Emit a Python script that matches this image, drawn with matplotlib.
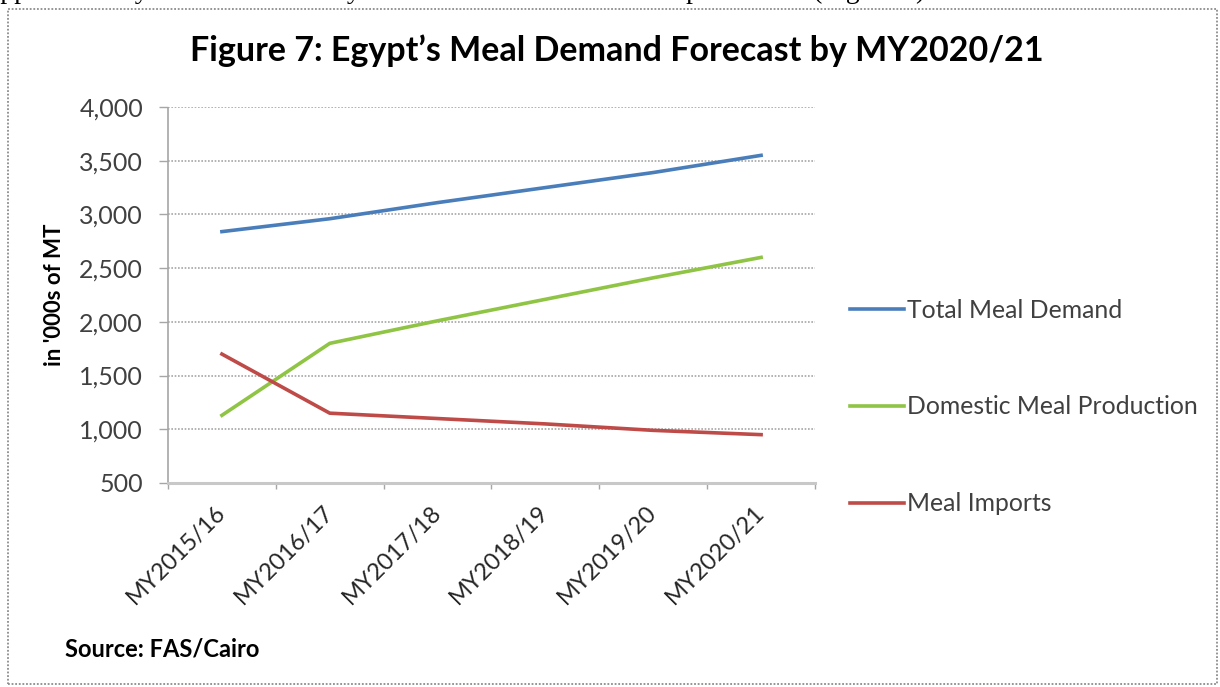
import numpy as np
import matplotlib
matplotlib.use("Agg")
import matplotlib.pyplot as plt
import matplotlib.transforms as mtransforms
from matplotlib.patches import Rectangle
from matplotlib.ticker import FuncFormatter, NullFormatter

plt.rcParams["font.family"] = ["Lato", "DejaVu Sans"]

# Egypt meal balance, '000 MT
years = ["MY2015/16", "MY2016/17", "MY2017/18", "MY2018/19", "MY2019/20", "MY2020/21"]
total_demand = [2840, 2960, 3110, 3250, 3390, 3550]
domestic_production = [1130, 1800, 2010, 2210, 2410, 2600]
meal_imports = [1700, 1150, 1100, 1050, 990, 950]

BLUE = "#4A7EBB"
GREEN = "#8FC444"
RED = "#BE4B48"
GRID = "#a6a6a6"
TEXT = "#404040"

W, H = 1220, 687
fig = plt.figure(figsize=(W / 100, H / 100), dpi=100)

# dotted frame around the whole chart
fig.patches.append(Rectangle((8 / W, 3 / H), 1209 / W, 675 / H, transform=fig.transFigure,
                             fill=False, ec="#8c8c8c", lw=1.3, ls=(0, (1, 1))))

# last line of the paragraph above, cut off by the page edge
fig.text(-12 / W, 1 + 2 / H, "approximately 3.6 million MT by MY2020/21 while domestic production (Figure 7).",
         family="Liberation Serif", fontsize=20, va="baseline", ha="left")

ax = fig.add_axes([168 / W, 1 - 483 / H, 647 / W, 376 / H])
x = np.arange(len(years))
ax.plot(x, total_demand, color=BLUE, lw=2.6, label="Total Meal Demand")
ax.plot(x, domestic_production, color=GREEN, lw=2.6, label="Domestic Meal Production")
ax.plot(x, meal_imports, color=RED, lw=2.6, label="Meal Imports")

ax.set_xlim(-0.5, len(years) - 0.5)
ax.set_ylim(500, 4000)
ax.set_yticks(np.arange(500, 4001, 500))
ax.yaxis.set_major_formatter(FuncFormatter(lambda v, _: f"{v:,.0f}"))
ax.grid(axis="y", color=GRID, ls=(0, (1, 1)), lw=1.2)
ax.set_axisbelow(True)

# ticks between categories, names on the minor ticks
ax.set_xticks(np.arange(-0.5, len(years)))
ax.xaxis.set_major_formatter(NullFormatter())
ax.set_xticks(x, minor=True)
ax.set_xticklabels(years, minor=True, rotation=45, ha="right", va="center",
                   rotation_mode="anchor", fontsize=17, color="#262626")
shift = mtransforms.ScaledTranslation(0.2, 0, fig.dpi_scale_trans)
for lab in ax.get_xticklabels(minor=True):
    lab.set_transform(lab.get_transform() + shift)
ax.tick_params(axis="x", which="minor", length=0, pad=19)
ax.tick_params(axis="x", which="major", length=4, color=GRID, width=1)
ax.tick_params(axis="y", length=6.5, color=GRID, width=1, labelsize=18,
               labelcolor=TEXT, pad=11.5)

for side in ("top", "right"):
    ax.spines[side].set_visible(False)
ax.spines["left"].set_color(GRID)
ax.spines["left"].set_linestyle((0, (1, 1)))
ax.spines["left"].set_linewidth(1.2)
ax.spines["bottom"].set_color("#c8c8c8")
ax.spines["bottom"].set_linewidth(2.2)

ax.set_ylabel("in '000s of MT", fontsize=16, fontweight="bold", color="black", labelpad=10)

fig.text(617 / W, 1 - 51 / H, "Figure 7: Egypt\u2019s Meal Demand Forecast by MY2020/21",
         fontsize=24.5, fontweight="bold", ha="center", va="center")

fig.legend(loc="center left", bbox_to_anchor=(850 / W, 1 - 407 / H), frameon=False,
           fontsize=17.8, labelcolor=TEXT, handlelength=2.2, handletextpad=0.12,
           labelspacing=2.98, borderaxespad=0, borderpad=0)

fig.text(65 / W, 1 - 649 / H, "Source: FAS/Cairo", fontsize=17, fontweight="bold",
         ha="left", va="center")

fig.savefig("out.png", dpi=100)
